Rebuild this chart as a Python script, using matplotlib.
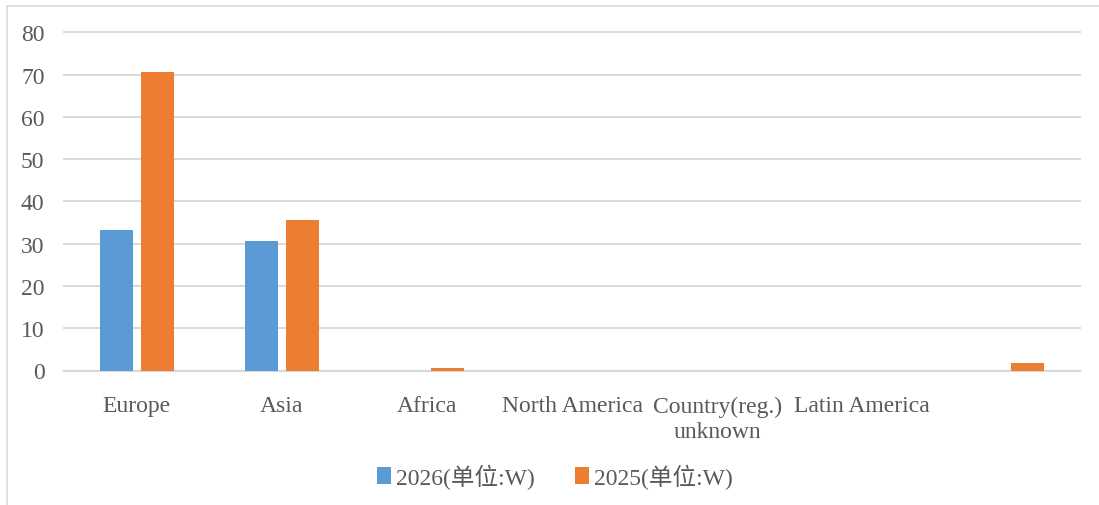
import numpy as np
import matplotlib.pyplot as plt
from matplotlib.lines import Line2D

# --------------------------------------------------------------
# DATA
# --------------------------------------------------------------
regions = ["Europe", "Asia", "Africa", "North America",
           "Country(reg.)\nunknown", "Latin America", ""]
values_2026 = [33.3, 30.7, 0.0, 0.0, 0.0, 0.0, 0.0]
values_2025 = [70.7, 35.6, 0.5, 0.0, 0.0, 0.0, 1.8]
series_labels = ["2026(单位:W)", "2025(单位:W)"]
y_ticks = [0, 10, 20, 30, 40, 50, 60, 70, 80]

# --------------------------------------------------------------
# STYLE
# --------------------------------------------------------------
plt.rcParams['font.family'] = ['Liberation Serif', 'Noto Sans CJK SC', 'DejaVu Sans']
TEXT_COLOR = "#595959"
GRID_COLOR = "#d9d9d9"
BLUE = "#5b9bd5"
ORANGE = "#ed7d31"

W, H = 1099, 506
fig = plt.figure(figsize=(W / 100, H / 100), dpi=100)
ax = fig.add_axes([64 / W, 1 - 371.5 / H, (1080 - 64) / W, (371.5 - 33.5) / H])

x = np.arange(len(regions))
bar_w = 0.227
offset = 0.141
ax.bar(x - offset, values_2026, width=bar_w, color=BLUE, label=series_labels[0], zorder=3)
ax.bar(x + offset, values_2025, width=bar_w, color=ORANGE, label=series_labels[1], zorder=3)

ax.set_xlim(-0.5, len(regions) - 0.5)
ax.set_ylim(0, 80)
ax.set_yticks(y_ticks)
ax.set_xticks(x)
ax.set_xticklabels(regions, linespacing=1.3)
ax.tick_params(axis='both', length=0, labelsize=17, labelcolor=TEXT_COLOR)
ax.tick_params(axis='y', pad=14)
ax.tick_params(axis='x', pad=18)

ax.grid(axis='y', color=GRID_COLOR, linewidth=1.4, zorder=0)
for gl in ax.get_ygridlines():
    gl.set_clip_on(False)
for s in ["top", "right", "left"]:
    ax.spines[s].set_visible(False)
ax.spines["bottom"].set_color(GRID_COLOR)
ax.spines["bottom"].set_linewidth(1.6)

# Legend under the chart
fig.legend(loc='center', bbox_to_anchor=(555 / W, 1 - 477 / H), ncol=2, frameon=False,
           fontsize=17, labelcolor=TEXT_COLOR, handlelength=0.6, handleheight=0.7,
           handletextpad=0.2, columnspacing=1.7)

# Chart area border (top and left edge visible)
fig.add_artist(Line2D([7 / W, 1], [1 - 7 / H, 1 - 7 / H], color=GRID_COLOR, linewidth=1.2))
fig.add_artist(Line2D([7 / W, 7 / W], [0, 1 - 7 / H], color=GRID_COLOR, linewidth=1.2))

fig.savefig("out.png", dpi=100)
